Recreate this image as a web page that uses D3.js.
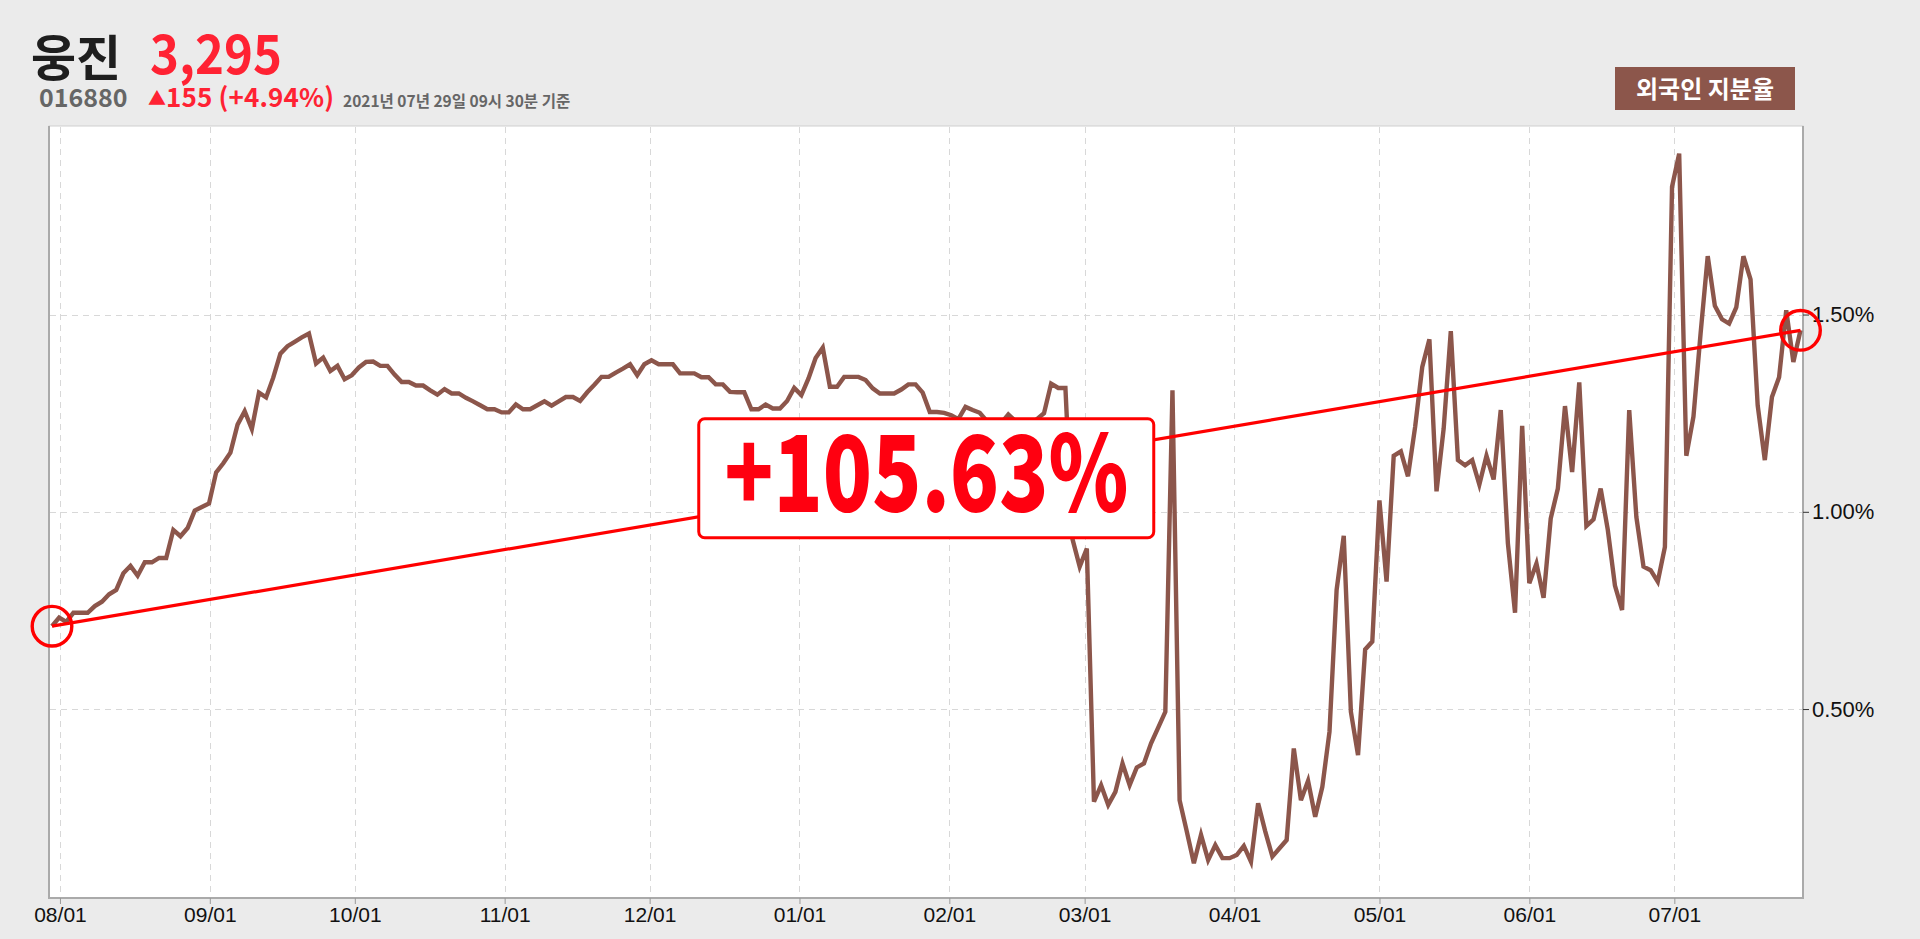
<!DOCTYPE html>
<html><head><meta charset="utf-8">
<script src="https://cdn.jsdelivr.net/npm/d3@7"></script>
<style>
html,body{margin:0;padding:0;background:#ebebeb;overflow:hidden;}
svg{display:block;}
</style></head><body>
<svg id="chart" width="1920" height="939"></svg>
<script>
// ---------- data ----------
const stockName = "웅진";
const stockCode = "016880";
const price = "3,295";
const changeText = "155 (+4.94%)";
const asOfText = "2021년 07년 29일 09시 30분 기준";
const seriesName = "외국인 지분율";
const startDate = "2020-07-30";
const endDate = "2021-07-27";
const monthTicks = ["2020-08-01","2020-09-01","2020-10-01","2020-11-01","2020-12-01","2021-01-01",
                    "2021-02-01","2021-03-01","2021-04-01","2021-05-01","2021-06-01","2021-07-01"];
const yTickValues = [0.5, 1.0, 1.5];
// foreign ownership ratio (%), one value per trading day
const foreignRatio = [
 0.710,0.732,0.721,0.744,0.744,0.744,0.761,0.772,0.791,0.802,
 0.844,0.863,0.838,0.872,0.872,0.883,0.883,0.954,0.938,0.959,
 1.003,1.012,1.021,1.100,1.123,1.150,1.221,1.255,1.210,1.302,
 1.290,1.340,1.401,1.420,1.431,1.442,1.452,1.376,1.391,1.357,
 1.370,1.336,1.346,1.366,1.380,1.381,1.370,1.370,1.348,1.329,
 1.329,1.320,1.320,1.308,1.297,1.311,1.300,1.300,1.289,1.280,
 1.270,1.260,1.260,1.252,1.252,1.272,1.260,1.260,1.270,1.280,
 1.269,1.280,1.291,1.291,1.281,1.303,1.322,1.342,1.342,1.353,
 1.363,1.374,1.346,1.374,1.384,1.374,1.374,1.374,1.351,1.351,
 1.351,1.341,1.341,1.323,1.323,1.304,1.303,1.303,1.260,1.260,
 1.272,1.262,1.262,1.281,1.314,1.296,1.338,1.390,1.416,1.317,
 1.317,1.342,1.342,1.342,1.334,1.313,1.300,1.300,1.300,1.310,
 1.323,1.323,1.302,1.253,1.253,1.251,1.245,1.235,1.266,1.258,
 1.251,1.230,1.210,1.225,1.247,1.230,1.215,1.220,1.235,1.250,
 1.325,1.314,1.314,0.930,0.861,0.907,0.265,0.307,0.257,0.290,
 0.362,0.307,0.352,0.362,0.413,0.453,0.493,1.308,0.269,0.190,
 0.109,0.181,0.117,0.155,0.122,0.122,0.130,0.153,0.113,0.261,
 0.190,0.126,0.147,0.168,0.400,0.269,0.318,0.227,0.303,0.442,
 0.802,0.939,0.493,0.383,0.651,0.671,1.029,0.823,1.142,1.153,
 1.090,1.215,1.367,1.437,1.052,1.211,1.458,1.131,1.118,1.131,
 1.069,1.142,1.082,1.258,0.920,0.744,1.218,0.819,0.869,0.782,
 0.983,1.059,1.268,1.101,1.328,0.964,0.981,1.059,0.954,0.813,
 0.751,1.258,0.987,0.861,0.852,0.823,0.911,1.824,1.908,1.142,
 1.241,1.452,1.648,1.522,1.488,1.477,1.518,1.648,1.589,1.270,
 1.131,1.291,1.341,1.511,1.380,1.460
];

// ---------- layout ----------
const frame = {left: 49, right: 1803, top: 126, bottom: 898};
const lineColor = "#8c564b";
const red = "#ff0000";

const svg = d3.select("#chart");
const parse = d3.utcParse("%Y-%m-%d");
const N = foreignRatio.length;

const x = d3.scaleUtc()
  .domain([parse(startDate), parse(endDate)])
  .range([50.3, 1800]);
const xi = d3.scaleLinear().domain([0, N - 1]).range([52, 1800.5]);
const y = d3.scaleLinear().domain([0.021, 1.978]).range([frame.bottom, frame.top]);

// plot frame
svg.append("rect")
  .attr("x", frame.left).attr("y", frame.top)
  .attr("width", frame.right - frame.left).attr("height", frame.bottom - frame.top)
  .attr("fill", "#fff").attr("stroke", "#d0d0d0").attr("stroke-width", 1);
const border = svg.append("g").attr("stroke", "#aaaaaa").attr("stroke-width", 2).attr("fill", "none");
border.append("line").attr("x1", frame.left).attr("x2", frame.left).attr("y1", frame.top).attr("y2", frame.bottom + 1);
border.append("line").attr("x1", frame.right).attr("x2", frame.right).attr("y1", frame.top).attr("y2", frame.bottom + 1);
border.append("line").attr("x1", frame.left).attr("x2", frame.right + 1).attr("y1", frame.bottom).attr("y2", frame.bottom);

// gridlines
const tickDates = monthTicks.map(parse);
const grid = svg.append("g").attr("stroke", "#d8d8d8").attr("stroke-width", 1).attr("stroke-dasharray", "6,5");
grid.selectAll("line.v").data(tickDates).join("line").attr("class", "v")
  .attr("x1", d => Math.round(x(d)) + 0.5).attr("x2", d => Math.round(x(d)) + 0.5)
  .attr("y1", frame.top + 1).attr("y2", frame.bottom - 1);
grid.selectAll("line.h").data(yTickValues).join("line").attr("class", "h")
  .attr("x1", frame.left + 1).attr("x2", frame.right - 1)
  .attr("y1", d => Math.round(y(d)) + 0.5).attr("y2", d => Math.round(y(d)) + 0.5);

// axes
const xAxis = d3.axisBottom(x).tickValues(tickDates).tickFormat(d3.utcFormat("%m/%d")).tickSize(6).tickPadding(3);
const gx = svg.append("g").attr("transform", `translate(0,${frame.bottom})`).call(xAxis);
gx.select(".domain").remove();
gx.selectAll(".tick line").attr("stroke", "#999");
gx.selectAll(".tick text").attr("font-family", "'Liberation Sans', Arial, sans-serif")
  .attr("font-size", 21).attr("fill", "#111");

const yAxis = d3.axisRight(y).tickValues(yTickValues).tickFormat(d => d3.format(".2f")(d) + "%").tickSize(6).tickPadding(3);
const gy = svg.append("g").attr("transform", `translate(${frame.right},0)`).call(yAxis);
gy.select(".domain").remove();
gy.selectAll(".tick line").attr("stroke", "#333");
gy.selectAll(".tick text").attr("font-family", "'Liberation Sans', Arial, sans-serif")
  .attr("font-size", 22).attr("fill", "#111");

// series line
const line = d3.line().x((d, i) => xi(i)).y(d => y(d));
svg.append("path").datum(foreignRatio)
  .attr("d", line).attr("fill", "none")
  .attr("stroke", lineColor).attr("stroke-width", 4.4).attr("stroke-linejoin", "miter");

// trend line first -> last
const first = foreignRatio[0], last = foreignRatio[N - 1];
const p0 = [xi(0), y(first)], p1 = [xi(N - 1), y(last)];
svg.append("line").attr("x1", p0[0]).attr("y1", p0[1]).attr("x2", p1[0]).attr("y2", p1[1])
  .attr("stroke", red).attr("stroke-width", 3.2);
svg.selectAll("circle.end").data([p0, p1]).join("circle").attr("class", "end")
  .attr("cx", d => d[0]).attr("cy", d => d[1]).attr("r", 19.8)
  .attr("fill", "none").attr("stroke", red).attr("stroke-width", 3.4);

// change label box
const pct = (last / first - 1) * 100;
const labelText = d3.format("+.2f")(pct) + "%";
const mid = [(p0[0] + p1[0]) / 2, (p0[1] + p1[1]) / 2];
const boxW = 455, boxH = 119;
svg.append("rect")
  .attr("x", mid[0] - boxW / 2).attr("y", mid[1] - boxH / 2)
  .attr("width", boxW).attr("height", boxH).attr("rx", 6)
  .attr("fill", "#fff").attr("stroke", red).attr("stroke-width", 3);
svg.append("text")
  .attr("x", mid[0]).attr("y", mid[1] + 34)
  .attr("text-anchor", "middle")
  .attr("font-family", "'Noto Sans CJK KR', 'Noto Sans', sans-serif")
  .attr("font-weight", 900).attr("font-size", 106).attr("fill", "#ff0010")
  .attr("textLength", 404).attr("lengthAdjust", "spacingAndGlyphs")
  .text(labelText);

// header
const kr = "'Noto Sans CJK KR', 'Noto Sans', sans-serif";
svg.append("text").attr("x", 31).attr("y", 76)
  .attr("font-family", kr).attr("font-weight", 700).attr("font-size", 49).attr("fill", "#1e1e1e")
  .text(stockName);
svg.append("text").attr("x", 150).attr("y", 74)
  .attr("font-family", kr).attr("font-weight", 700).attr("font-size", 54).attr("fill", "#ff2233")
  .attr("textLength", 132).attr("lengthAdjust", "spacingAndGlyphs")
  .text(price);
svg.append("text").attr("x", 39).attr("y", 107)
  .attr("font-family", kr).attr("font-weight", 700).attr("font-size", 25).attr("fill", "#666")
  .text(stockCode);
const ch = svg.append("text").attr("x", 148).attr("y", 107)
  .attr("font-family", kr).attr("font-weight", 700).attr("font-size", 26).attr("fill", "#ff2233");
ch.append("tspan").attr("font-size", 18).attr("dy", -2).text("▲");
ch.append("tspan").attr("dy", 2).attr("textLength", 168).attr("lengthAdjust", "spacing").text(changeText);
svg.append("text").attr("x", 343).attr("y", 107)
  .attr("font-family", kr).attr("font-weight", 700).attr("font-size", 15.5).attr("fill", "#666")
  .text(asOfText);

// legend badge
svg.append("rect").attr("x", 1615).attr("y", 67).attr("width", 180).attr("height", 43)
  .attr("fill", lineColor);
svg.append("text").attr("x", 1705).attr("y", 98).attr("text-anchor", "middle")
  .attr("font-family", kr).attr("font-weight", 700).attr("font-size", 24).attr("fill", "#fff")
  .text(seriesName);
</script>
</body></html>
